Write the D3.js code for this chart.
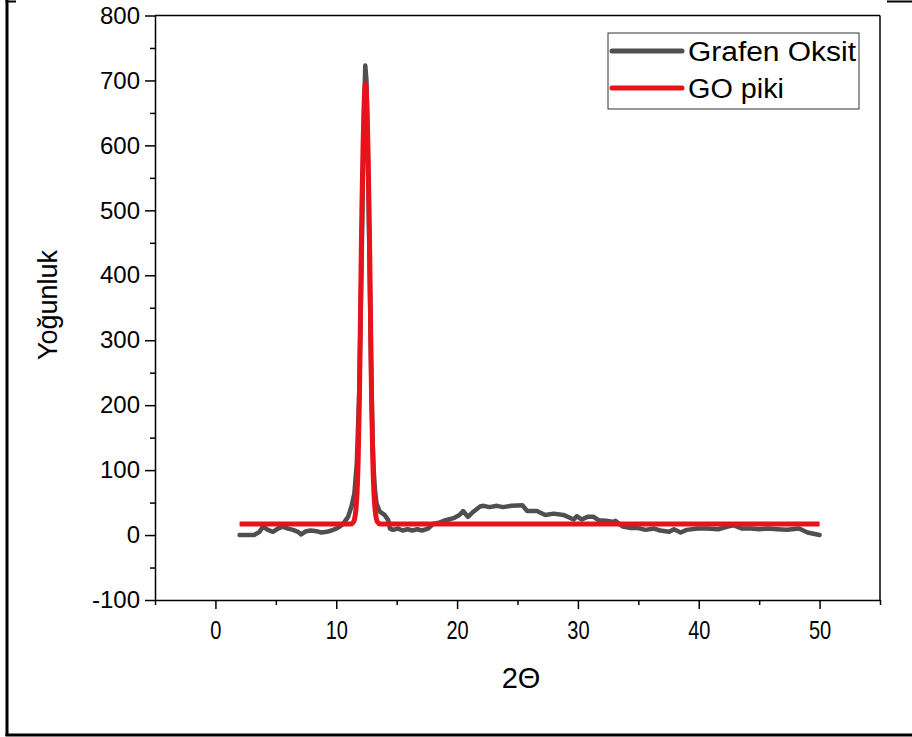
<!DOCTYPE html>
<html>
<head>
<meta charset="utf-8">
<script src="https://cdn.jsdelivr.net/npm/d3@7"></script>
<style>
  html, body { margin: 0; padding: 0; background: #fff; }
  text { font-family: "Liberation Sans", Arial, sans-serif; fill: #000; }
</style>
</head>
<body>
<div id="wrapper"></div>
<script>
// Grafen Oksit measured pattern (2-theta, intensity)
const grafenX = [2.0, 3.2, 3.65, 3.93, 4.34, 4.76, 5.17, 5.59, 6.0, 6.42, 6.83, 7.1, 7.5, 7.9, 8.35, 8.76, 9.2, 9.6,
  10.0, 10.3, 10.6, 10.98, 11.26, 11.5, 11.7, 11.9, 12.1, 12.2, 12.3, 12.4, 12.5, 12.6, 12.7, 12.8, 12.9, 13.0,
  13.1, 13.2, 13.33, 13.6, 14.0, 14.3, 14.44, 14.7, 15.1, 15.5, 15.9, 16.3, 16.7, 17.1, 17.6, 18.0, 18.5, 18.9,
  19.3, 19.7, 20.2, 20.5, 20.9, 21.35, 21.9, 22.2, 22.7, 23.3, 23.8, 24.5, 25.4, 25.8, 26.6, 27.3, 28.0, 28.8,
  29.65, 29.9, 30.3, 30.8, 31.3, 31.7, 32.3, 33.0, 33.1, 33.7, 34.4, 34.9, 35.6, 36.3, 36.8, 37.55, 37.95, 38.5,
  39.0, 39.9, 40.7, 41.6, 42.4, 42.9, 43.6, 44.3, 45.0, 45.7, 46.5, 47.3, 48.3, 49.0, 50.0]
const grafenY = [0, 0, 5, 13, 8, 5, 10, 13, 10, 8, 5, 1, 6, 7, 6, 4, 5, 7,
  10, 13, 18, 28, 44, 64, 110, 220, 420, 540, 650, 723, 700, 600, 480, 360, 240, 150,
  100, 70, 49, 36, 31, 23, 10, 8, 10, 7, 9, 7, 9, 7, 10, 17, 19, 22,
  24, 26, 31, 37, 28, 36, 44, 45, 43, 45, 43, 45, 46, 37, 37, 31, 33, 31,
  24, 29, 24, 28, 28, 23, 22, 20, 22, 13, 11, 11, 8, 10, 7, 5, 9, 4,
  8, 10, 10, 9, 13, 15, 10, 10, 9, 10, 9, 8, 10, 4, 0]

// GO piki fitted peak
const pikX = [2, 10, 11.2, 11.42, 11.52, 11.62, 11.72, 11.82, 11.92, 12.02, 12.12, 12.22, 12.32, 12.42,
  12.52, 12.62, 12.72, 12.82, 12.92, 13.02, 13.12, 13.22, 13.32, 13.42, 13.64, 50]
const pikY = [17, 17, 17, 20, 25, 38, 65, 120, 215, 360, 500, 600, 670, 695,
  670, 600, 500, 360, 215, 120, 65, 38, 25, 20, 17, 17]

const xMajor = [0, 10, 20, 30, 40, 50]
const xMinor = [-5, 5, 15, 25, 35, 45, 55]
const yMajor = [-100, 0, 100, 200, 300, 400, 500, 600, 700, 800]
const yMinor = [-50, 50, 150, 250, 350, 450, 550, 650, 750]

const seriesNames = ["Grafen Oksit", "GO piki"]
const seriesColors = ["#4f4f4f", "#e8121b"]

const W = 912, H = 737
const plot = { left: 155, right: 880, top: 15.5, bottom: 600 }

const svg = d3.select("#wrapper").append("svg")
  .attr("width", W)
  .attr("height", H)

// page border (cropped table cell)
svg.append("line").attr("x1", 7).attr("x2", 7).attr("y1", 0).attr("y2", 736)
  .attr("stroke", "#000").attr("stroke-width", 3)
svg.append("line").attr("x1", 5.5).attr("x2", W).attr("y1", 735).attr("y2", 735)
  .attr("stroke", "#000").attr("stroke-width", 3)
svg.append("line").attr("x1", 5.5).attr("x2", 16).attr("y1", 1.5).attr("y2", 1.5)
  .attr("stroke", "#000").attr("stroke-width", 2)
svg.append("line").attr("x1", 887).attr("x2", W).attr("y1", 1.5).attr("y2", 1.5)
  .attr("stroke", "#000").attr("stroke-width", 2)

const x = d3.scaleLinear().domain([-5, 55]).range([plot.left, plot.right])
const y = d3.scaleLinear().domain([-100, 800]).range([plot.bottom, plot.top])

// frame top and right
svg.append("line").attr("x1", plot.left).attr("x2", plot.right).attr("y1", plot.top).attr("y2", plot.top)
  .attr("stroke", "#000").attr("stroke-width", 1.5)
svg.append("line").attr("x1", plot.right).attr("x2", plot.right).attr("y1", plot.top).attr("y2", plot.bottom)
  .attr("stroke", "#000").attr("stroke-width", 1.5)

const plainFormat = d => String(d) // keep hyphen minus like the original

// x axis
const xAxis = svg.append("g")
  .attr("transform", `translate(0,${plot.bottom})`)
  .call(d3.axisBottom(x).tickValues(xMajor).tickFormat(plainFormat).tickSize(9).tickPadding(12).tickSizeOuter(0))
xAxis.selectAll("text")
  .attr("font-size", 25)
  .attr("transform", "scale(0.8,1)")
svg.append("g")
  .attr("transform", `translate(0,${plot.bottom})`)
  .call(d3.axisBottom(x).tickValues(xMinor).tickSize(5).tickFormat("").tickSizeOuter(0))
  .select(".domain").remove()

// y axis
const yAxis = svg.append("g")
  .attr("transform", `translate(${plot.left},0)`)
  .call(d3.axisLeft(y).tickValues(yMajor).tickFormat(plainFormat).tickSize(10).tickPadding(5).tickSizeOuter(0))
yAxis.selectAll("text")
  .attr("font-size", 24)
svg.append("g")
  .attr("transform", `translate(${plot.left},0)`)
  .call(d3.axisLeft(y).tickValues(yMinor).tickSize(5).tickFormat("").tickSizeOuter(0))
  .select(".domain").remove()

svg.selectAll(".domain, .tick line").attr("stroke", "#000").attr("stroke-width", 1.5)
svg.selectAll(".tick text").attr("font-family", "Liberation Sans, Arial, sans-serif").attr("fill", "#000")

// axis titles
svg.append("text")
  .attr("transform", "translate(57,305) rotate(-90)")
  .attr("text-anchor", "middle")
  .attr("font-size", 27)
  .text("Yoğunluk")
svg.append("text")
  .attr("x", 521)
  .attr("y", 688)
  .attr("text-anchor", "middle")
  .attr("font-size", 29)
  .text("2Θ")

// curves
const line = d3.line()
  .x(d => x(d[0]))
  .y(d => y(d[1]))

svg.append("path")
  .datum(d3.zip(grafenX, grafenY))
  .attr("d", line)
  .attr("fill", "none")
  .attr("stroke", seriesColors[0])
  .attr("stroke-width", 4.5)
  .attr("stroke-linejoin", "round")
  .attr("stroke-linecap", "round")

svg.append("path")
  .datum(d3.zip(pikX, pikY))
  .attr("d", line.curve(d3.curveMonotoneX))
  .attr("fill", "none")
  .attr("stroke", seriesColors[1])
  .attr("stroke-width", 5)
  .attr("stroke-linejoin", "round")

// legend
const legend = svg.append("g").attr("transform", "translate(608,33)")
legend.append("rect")
  .attr("width", 251).attr("height", 76)
  .attr("fill", "#fff").attr("stroke", "#333").attr("stroke-width", 1)
seriesNames.forEach((name, i) => {
  const ly = 18 + i * 37
  legend.append("line")
    .attr("x1", 4).attr("x2", 74).attr("y1", ly).attr("y2", ly)
    .attr("stroke", seriesColors[i]).attr("stroke-width", 5)
    .attr("stroke-linecap", "round")
  legend.append("text")
    .attr("x", 80)
    .attr("y", ly + 10)
    .attr("font-size", 27)
    .attr("textLength", i === 0 ? 168 : 96)
    .attr("lengthAdjust", "spacingAndGlyphs")
    .text(name)
})
</script>
</body>
</html>
